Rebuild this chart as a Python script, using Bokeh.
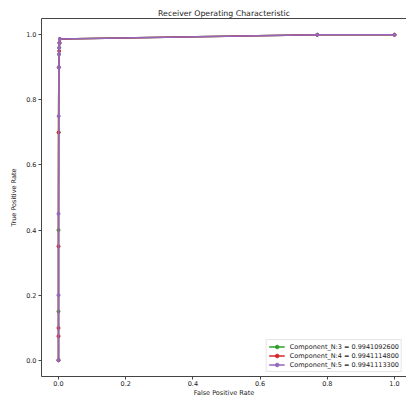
from bokeh.plotting import figure
from bokeh.models import Range1d, FixedTicker, LinearAxis, PrintfTickFormatter
from bokeh.embed import file_html
from bokeh.resources import INLINE

# ROC curve points
fpr_3 = [0.0, 0.0, 0.0, 0.0005, 0.001, 0.0015, 0.002, 0.003, 0.004, 0.77, 1.0]
tpr_3 = [0.0, 0.15, 0.4, 0.7, 0.9, 0.94, 0.96, 0.975, 0.987, 1.0, 1.0]
fpr_4 = [0.0, 0.0, 0.0, 0.0, 0.0005, 0.001, 0.002, 0.003, 0.004, 0.77, 1.0]
tpr_4 = [0.0, 0.074, 0.099, 0.35, 0.7, 0.9, 0.95, 0.975, 0.987, 1.0, 1.0]
fpr_5 = [0.0, 0.0, 0.0, 0.0005, 0.001, 0.0015, 0.002, 0.003, 0.004, 0.77, 1.0]
tpr_5 = [0.0, 0.2, 0.45, 0.75, 0.9, 0.94, 0.96, 0.975, 0.987, 1.0, 1.0]

labels = ["Component_N:3 = 0.9941092600",
          "Component_N:4 = 0.9941114800",
          "Component_N:5 = 0.9941113300"]
colors = ["#2ca02c", "#d62728", "#9467bd"]
ticks = [0.0, 0.2, 0.4, 0.6, 0.8, 1.0]

FONT = "DejaVu Sans"
SPINE = "#444444"
FS = "6.5px"

p = figure(width=406, height=400, output_backend="svg", toolbar_location=None,
           x_range=Range1d(-0.0506, 1.0357), y_range=Range1d(-0.05, 1.05),
           min_border_left=41, min_border_right=0, min_border_bottom=24, min_border_top=18)
p.title.text = "Receiver Operating Characteristic"
p.title.align = "center"
p.title.text_font = FONT
p.title.text_font_size = "7.8px"
p.title.text_font_style = "normal"
p.title.text_color = "#222222"
p.title.standoff = 2
p.title.offset = 0
p.outline_line_color = None
p.grid.visible = False
p.background_fill_color = "white"
p.border_fill_color = "white"

for ax, lab in ((p.xaxis[0], "False Positive Rate"), (p.yaxis[0], "True Positive Rate")):
    ax.ticker = FixedTicker(ticks=ticks)
    ax.formatter = PrintfTickFormatter(format="%.1f")
    ax.axis_label = lab
    ax.axis_label_text_font = FONT
    ax.axis_label_text_font_size = FS
    ax.axis_label_text_font_style = "normal"
    ax.axis_label_text_color = "#222222"
    ax.major_label_text_font = FONT
    ax.major_label_text_font_size = FS
    ax.major_label_text_color = "#222222"
    ax.major_label_standoff = 2
    ax.major_tick_in = 0
    ax.major_tick_out = 3
    ax.minor_tick_line_color = None
    ax.axis_line_color = SPINE
    ax.major_tick_line_color = SPINE
p.xaxis[0].major_label_standoff = 1
p.xaxis[0].axis_label_standoff = 0
p.yaxis[0].axis_label_standoff = 5

top = LinearAxis(ticker=FixedTicker(ticks=[]), major_tick_in=0, major_tick_out=0,
                 minor_tick_line_color=None, axis_line_color=SPINE,
                 major_label_standoff=0)
p.add_layout(top, "above")

series = [(fpr_3, tpr_3), (fpr_4, tpr_4), (fpr_5, tpr_5)]
for (fx, ty), lab, c in zip(series, labels, colors):
    p.line(fx, ty, line_color=c, line_width=1.6, legend_label=lab)
    p.scatter(fx, ty, size=3, fill_color=c, line_color=c, legend_label=lab)

leg = p.legend[0]
leg.location = "bottom_right"
leg.label_text_font = FONT
leg.label_text_font_size = FS
leg.label_text_color = "#222222"
leg.glyph_height = 9
leg.glyph_width = 16
leg.spacing = 0
leg.padding = 2
leg.margin = 4
leg.label_height = 9
leg.label_standoff = 5
leg.border_line_color = "#cccccc"
leg.background_fill_alpha = 0.8

open("out.html", "w").write(file_html(p, INLINE))
